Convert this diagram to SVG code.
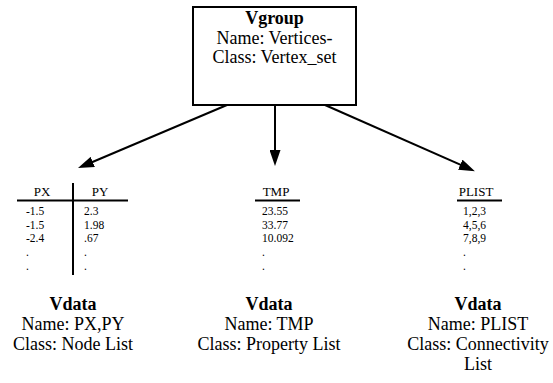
<svg xmlns="http://www.w3.org/2000/svg" width="553" height="383" viewBox="0 0 553 383">
<style>
text{font-family:"Liberation Serif","Times New Roman",serif;fill:#000}
.lbl{font-size:18px;text-anchor:middle}
.b{font-weight:bold}
.tb{font-size:11.5px}
.hd{font-size:13px;text-anchor:middle}
.ln{stroke:#000;stroke-width:2;fill:none}
.arr{stroke:#000;stroke-width:2;fill:none;marker-end:url(#ah)}
</style>
<defs>
<marker id="ah" markerUnits="userSpaceOnUse" markerWidth="16" markerHeight="11" refX="8" refY="5.5" orient="auto" viewBox="0 0 16 11">
<path d="M0,0 L16,5.5 L0,11 z" fill="#000"/>
</marker>
</defs>
<rect width="553" height="383" fill="#fff"/>
<g id="vgroup">
<rect x="193" y="7" width="163" height="98" fill="#fff" stroke="#000" stroke-width="2"/>
<text class="lbl b" x="274.5" y="24">Vgroup</text>
<text class="lbl" x="274.5" y="44">Name: Vertices-</text>
<text class="lbl" x="274.5" y="63">Class: Vertex_set</text>
</g>
<g id="connectors">
<line class="arr" x1="227" y1="105" x2="85.4" y2="165"/>
<line class="arr" x1="275" y1="105" x2="275" y2="158"/>
<line class="arr" x1="325" y1="105" x2="467.6" y2="167.9"/>
</g>
<g id="vdata-pxpy">
<text class="hd" x="42" y="196">PX</text>
<text class="hd" x="100" y="196">PY</text>
<line class="ln" x1="17" y1="200.5" x2="128" y2="200.5"/>
<line class="ln" x1="73" y1="183" x2="73" y2="275"/>
<text class="tb" x="26" y="215">-1.5</text>
<text class="tb" x="26" y="228.5">-1.5</text>
<text class="tb" x="26" y="242">-2.4</text>
<text class="tb" x="26" y="256">.</text>
<text class="tb" x="26" y="270">.</text>
<text class="tb" x="84" y="215">2.3</text>
<text class="tb" x="84" y="228.5">1.98</text>
<text class="tb" x="84" y="242">.67</text>
<text class="tb" x="84" y="256">.</text>
<text class="tb" x="84" y="270">.</text>
<text class="lbl b" x="73" y="310">Vdata</text>
<text class="lbl" x="73" y="330">Name: PX,PY</text>
<text class="lbl" x="73" y="350">Class: Node List</text>
</g>
<g id="vdata-tmp">
<text class="hd" x="276" y="196">TMP</text>
<line class="ln" x1="255" y1="200.5" x2="300" y2="200.5"/>
<text class="tb" x="262" y="215">23.55</text>
<text class="tb" x="262" y="228.5">33.77</text>
<text class="tb" x="262" y="242">10.092</text>
<text class="tb" x="262" y="256">.</text>
<text class="tb" x="262" y="270">.</text>
<text class="lbl b" x="269" y="310">Vdata</text>
<text class="lbl" x="269" y="330">Name: TMP</text>
<text class="lbl" x="269" y="350">Class: Property List</text>
</g>
<g id="vdata-plist">
<text class="hd" x="476" y="196">PLIST</text>
<line class="ln" x1="457" y1="200.5" x2="502" y2="200.5"/>
<text class="tb" x="463" y="215">1,2,3</text>
<text class="tb" x="463" y="228.5">4,5,6</text>
<text class="tb" x="463" y="242">7,8,9</text>
<text class="tb" x="463" y="256">.</text>
<text class="tb" x="463" y="270">.</text>
<text class="lbl b" x="478" y="310">Vdata</text>
<text class="lbl" x="478" y="330">Name: PLIST</text>
<text class="lbl" x="478" y="350">Class: Connectivity</text>
<text class="lbl" x="478" y="370">List</text>
</g>
</svg>
